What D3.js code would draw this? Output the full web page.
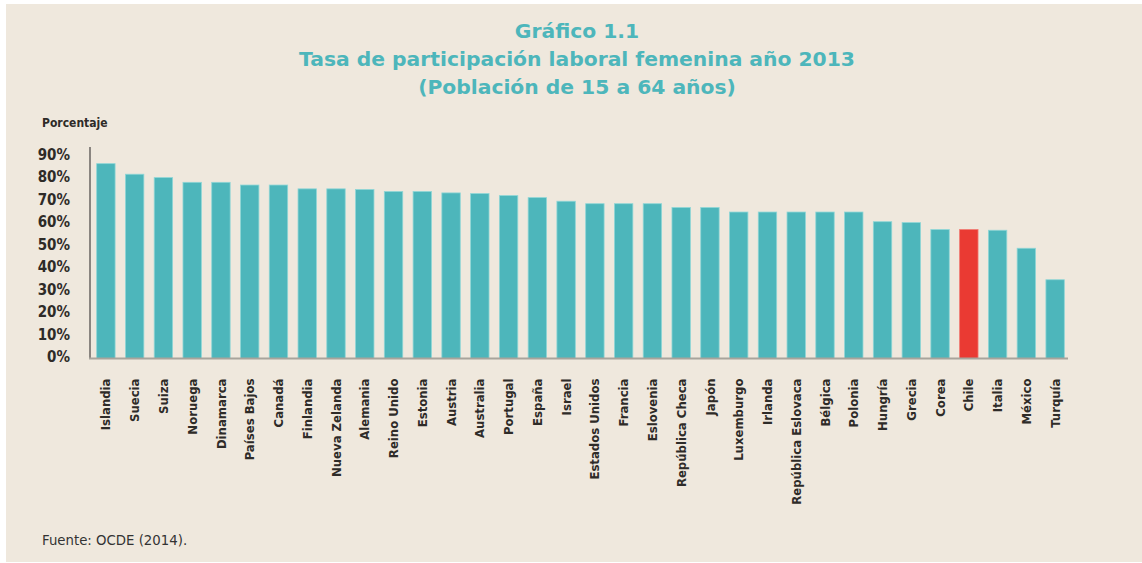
<!DOCTYPE html>
<html>
<head>
<meta charset="utf-8">
<script src="https://cdn.jsdelivr.net/npm/d3@7"></script>
<style>
  body { margin: 0; background: #fff; }
  svg { display: block; }
  .cond { font-family: "Liberation Sans Narrow", "DejaVu Sans Condensed", "Roboto Condensed", sans-serif; font-weight: bold; }
</style>
</head>
<body>
<div class="content"></div>
<script>
const w = 1142;
const h = 563;

// data
const countries = ['Islandia', 'Suecia', 'Suiza', 'Noruega', 'Dinamarca', 'Países Bajos', 'Canadá',
  'Finlandia', 'Nueva Zelanda', 'Alemania', 'Reino Unido', 'Estonia', 'Austria', 'Australia',
  'Portugal', 'España', 'Israel', 'Estados Unidos', 'Francia', 'Eslovenia', 'República Checa',
  'Japón', 'Luxemburgo', 'Irlanda', 'República Eslovaca', 'Bélgica', 'Polonia', 'Hungría',
  'Grecia', 'Corea', 'Chile', 'Italia', 'México', 'Turquía'];
const rates = [86.6, 81.9, 80.4, 78.3, 78.3, 77.1, 77.1,
  75.4, 75.4, 75.1, 74.2, 74.2, 73.6, 73.3,
  72.4, 71.5, 69.9, 68.8, 68.8, 68.8, 67.1,
  67.1, 65.1, 65.1, 65.1, 65.1, 65.1, 60.8,
  60.4, 57.3, 57.3, 57.0, 49.0, 35.0];
const highlight = ['Chile'];
const yTicks = [0, 10, 20, 30, 40, 50, 60, 70, 80, 90];
const titleLines = ['Gráfico 1.1', 'Tasa de participación laboral femenina año 2013', '(Población de 15 a 64 años)'];

const teal = '#4db6bb';
const red = '#ea3a33';

const svg = d3.select('.content').append('svg')
	.attr('width', w)
	.attr('height', h);

// beige panel
svg.append('rect')
	.attr('x', 6)
	.attr('y', 4)
	.attr('width', w - 6)
	.attr('height', 558)
	.attr('fill', '#efe8dd');

svg.selectAll('.title')
	.data(titleLines)
	.enter()
	.append('text')
	.attr('class', 'title')
	.attr('x', 577)
	.attr('y', (d, i) => 38 + i * 28)
	.attr('text-anchor', 'middle')
	.attr('fill', teal)
	.style('font-family', '"DejaVu Sans", sans-serif')
	.style('font-weight', 'bold')
	.style('font-size', '20.3px')
	.text((d) => d);

const xScale = d3.scaleBand()
	.domain(countries)
	.range([91.5, 1069.5])
	.paddingInner(0.36)
	.paddingOuter(0.18);

const yScale = d3.scaleLinear()
	.domain([0, 90])
	.range([358.5, 156]);

// bars
svg.selectAll('.bar')
	.data(countries)
	.enter()
	.append('rect')
	.attr('class', 'bar')
	.attr('x', (d) => xScale(d))
	.attr('y', (d, i) => yScale(rates[i]))
	.attr('width', xScale.bandwidth())
	.attr('height', (d, i) => yScale(0) - yScale(rates[i]))
	.attr('fill', (d) => highlight.includes(d) ? red : teal)
	.attr('stroke', (d) => highlight.includes(d) ? '#f07a72' : '#8fd6d6')
	.attr('stroke-width', 0.8);

// y axis
const yAxis = d3.axisLeft(yScale)
	.tickValues(yTicks)
	.tickSize(0)
	.tickPadding(20)
	.tickFormat((d) => d + '%');

const gy = svg.append('g')
	.attr('transform', 'translate(90,0)')
	.call(yAxis);
gy.select('.domain')
	.attr('d', 'M0,147V358.5')
	.attr('stroke', '#8a8580')
	.attr('stroke-width', 2);
gy.selectAll('text')
	.attr('class', 'cond')
	.attr('dy', '0.2em')
	.attr('fill', '#2e2b28')
	.style('font-size', '15px');

// x axis
const xAxis = d3.axisBottom(xScale)
	.tickSize(0)
	.tickPadding(0);

const gx = svg.append('g')
	.attr('transform', 'translate(0,358.5)')
	.call(xAxis);
gx.select('.domain')
	.attr('d', 'M89,0H1068')
	.attr('stroke', '#a8a49c')
	.attr('stroke-width', 2);
gx.selectAll('text')
	.attr('class', 'cond')
	.attr('fill', '#2e2b28')
	.style('font-size', '13px')
	.attr('text-anchor', 'end')
	.attr('dy', '0.35em')
	.attr('transform', 'translate(0,20) rotate(-90)')
	.attr('y', 0)
	.attr('x', 0);

svg.append('text')
	.attr('class', 'cond')
	.attr('x', 42)
	.attr('y', 127)
	.attr('fill', '#2e2b28')
	.style('font-size', '12px')
	.text('Porcentaje');

svg.append('text')
	.attr('x', 42)
	.attr('y', 545)
	.attr('fill', '#333')
	.style('font-family', '"DejaVu Sans", sans-serif')
	.style('font-size', '13.3px')
	.text('Fuente: OCDE (2014).');
</script>
</body>
</html>
